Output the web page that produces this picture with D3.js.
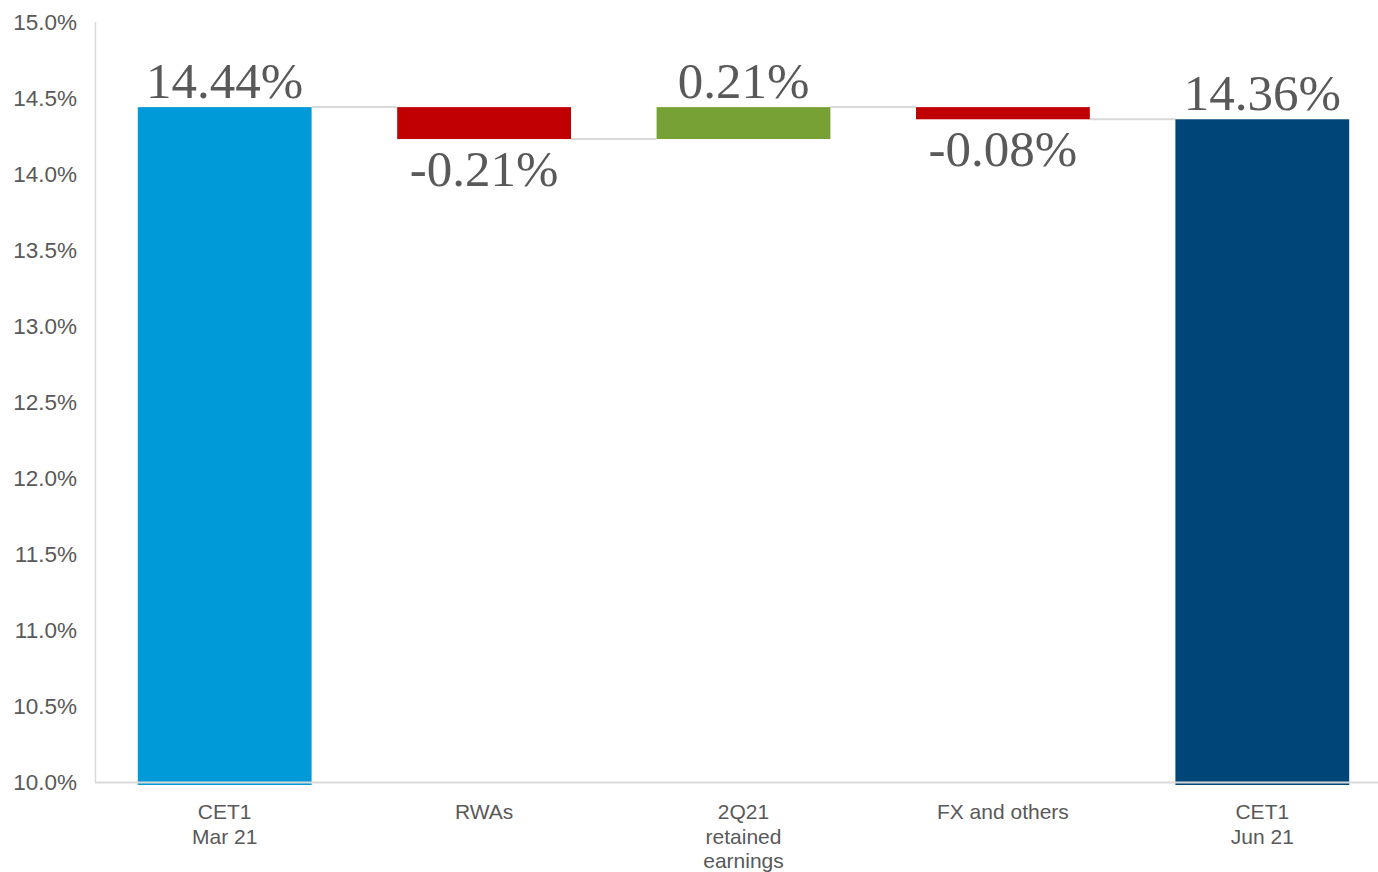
<!DOCTYPE html>
<html>
<head>
<meta charset="utf-8">
<script src="https://cdn.jsdelivr.net/npm/d3@7"></script>
<style>
  html, body { margin: 0; padding: 0; background: #ffffff; }
  svg { display: block; }
</style>
</head>
<body>
<svg id="chart" width="1378" height="872"></svg>
<script>
// CET1 ratio walk, Mar 21 -> Jun 21
const categories = [["CET1", "Mar 21"], ["RWAs"], ["2Q21", "retained", "earnings"], ["FX and others"], ["CET1", "Jun 21"]];
const steps = [14.44, -0.21, 0.21, -0.08, 14.36];
const kinds = ["total", "delta", "delta", "delta", "total"];
const labels = ["14.44%", "-0.21%", "0.21%", "-0.08%", "14.36%"];
const yTicks = [10.0, 10.5, 11.0, 11.5, 12.0, 12.5, 13.0, 13.5, 14.0, 14.5, 15.0];
const colors = { first: "#009ad9", last: "#004577", up: "#77a134", down: "#c00000" };

const svg = d3.select("#chart");
const yMin = 10, yMax = 15;

const x = d3.scaleBand()
  .domain(d3.range(steps.length))
  .range([95, 1392])
  .paddingInner(0.33)
  .paddingOuter(0.165);

const y = d3.scaleLinear().domain([yMin, yMax]).range([782, 22]);

// compute floating segments
let running = 0;
const bars = steps.map((v, i) => {
  let lo, hi, end, color;
  if (kinds[i] === "total") {
    lo = yMin; hi = v; end = v; running = v;
    color = i === 0 ? colors.first : colors.last;
  } else {
    const start = running;
    end = start + v;
    lo = Math.min(start, end); hi = Math.max(start, end);
    running = end;
    color = v < 0 ? colors.down : colors.up;
  }
  return { i, v, lo, hi, end, color, kind: kinds[i], label: labels[i] };
});

// y axis line
svg.append("line")
  .attr("x1", 95.5).attr("x2", 95.5)
  .attr("y1", y(yMax)).attr("y2", y(yMin))
  .attr("stroke", "#d9d9d9").attr("stroke-width", 1.5);

// y tick labels
svg.append("g").selectAll("text")
  .data(yTicks).join("text")
  .attr("x", 77)
  .attr("y", d => y(d))
  .attr("dy", "0.35em")
  .attr("text-anchor", "end")
  .attr("font-family", "Liberation Sans, Arial, sans-serif")
  .attr("font-size", 22.5)
  .attr("fill", "#595959")
  .text(d => d.toFixed(1) + "%");

// connectors between consecutive bars
const conn = [];
for (let k = 0; k < bars.length - 1; k++) {
  conn.push({ x1: x(k) + x.bandwidth(), x2: x(k + 1), level: bars[k].end });
}
svg.append("g").selectAll("line")
  .data(conn).join("line")
  .attr("x1", d => d.x1).attr("x2", d => d.x2)
  .attr("y1", d => y(d.level)).attr("y2", d => y(d.level))
  .attr("stroke", "#d9d9d9").attr("stroke-width", 2);

// bars
svg.append("g").selectAll("rect")
  .data(bars).join("rect")
  .attr("x", d => x(d.i))
  .attr("width", x.bandwidth())
  .attr("y", d => y(d.hi))
  .attr("height", d => y(d.lo) - y(d.hi) + (d.kind === "total" ? 3 : 0))
  .attr("fill", d => d.color);

// x axis line
svg.append("line")
  .attr("x1", 95).attr("x2", 1378)
  .attr("y1", 782.5).attr("y2", 782.5)
  .attr("stroke", "#d9d9d9").attr("stroke-width", 2);

// value labels
svg.append("g").selectAll("text")
  .data(bars).join("text")
  .attr("x", d => x(d.i) + x.bandwidth() / 2)
  .attr("y", d => (d.kind === "delta" && d.v < 0) ? y(d.lo) + 47 : y(d.hi) - 9)
  .attr("text-anchor", "middle")
  .attr("font-family", "Liberation Serif, serif")
  .attr("font-size", 51)
  .attr("fill", "#595959")
  .text(d => d.label);

// category labels
const cat = svg.append("g").selectAll("text")
  .data(categories).join("text")
  .attr("x", (d, i) => x(i) + x.bandwidth() / 2)
  .attr("y", 819)
  .attr("text-anchor", "middle")
  .attr("font-family", "Liberation Sans, Arial, sans-serif")
  .attr("font-size", 21)
  .attr("fill", "#595959");
cat.selectAll("tspan")
  .data(d => d).join("tspan")
  .attr("x", function () { return d3.select(this.parentNode).attr("x"); })
  .attr("dy", (d, j) => j === 0 ? 0 : 24.5)
  .text(d => d);
</script>
</body>
</html>
